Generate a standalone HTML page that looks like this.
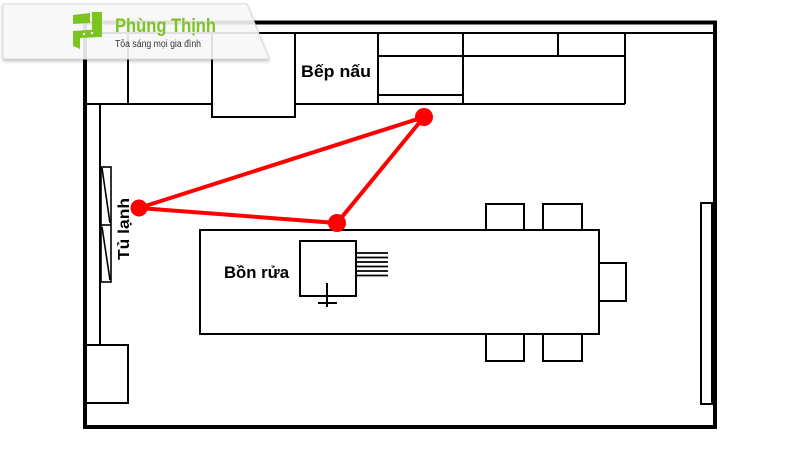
<!DOCTYPE html>
<html><head><meta charset="utf-8"><style>
html,body{margin:0;padding:0;background:#fff;}
svg{display:block;}
text{font-family:"Liberation Sans","DejaVu Sans",sans-serif;}
</style></head><body>
<svg width="800" height="450" viewBox="0 0 800 450" xmlns="http://www.w3.org/2000/svg">
<defs>
<filter id="sh" x="-10%" y="-20%" width="120%" height="160%">
<feDropShadow dx="0" dy="2" stdDeviation="1.5" flood-color="#000" flood-opacity="0.25"/>
</filter>
</defs>
<rect width="800" height="450" fill="#fff"/>
<g fill="none" stroke="#000" stroke-width="2">
<rect x="85" y="22.5" width="630" height="404.5" stroke-width="4"/>
<line x1="85" y1="33" x2="715" y2="33"/>
<line x1="85" y1="104" x2="212" y2="104"/>
<line x1="295" y1="104" x2="625" y2="104"/>
<line x1="128" y1="33" x2="128" y2="104"/>
<rect x="212" y="33" width="83" height="84"/>
<line x1="378" y1="33" x2="378" y2="104"/>
<line x1="463" y1="33" x2="463" y2="104"/>
<line x1="625" y1="33" x2="625" y2="104"/>
<line x1="378" y1="56" x2="625" y2="56"/>
<line x1="558" y1="33" x2="558" y2="56"/>
<line x1="378" y1="95" x2="463" y2="95"/>
<line x1="100" y1="104" x2="100" y2="345"/>
<rect x="85" y="345" width="43" height="58"/>
<rect x="101" y="167" width="10" height="115" stroke-width="1.6"/>
<line x1="101" y1="225" x2="111" y2="225" stroke-width="1.6"/>
<line x1="102" y1="168" x2="110" y2="223" stroke-width="1.6"/>
<line x1="102" y1="227" x2="110" y2="280" stroke-width="1.6"/>
<rect x="200" y="230" width="399" height="104"/>
<rect x="300" y="241" width="56" height="55"/>
<g stroke-width="1.8">
<line x1="356" y1="253" x2="388" y2="253"/>
<line x1="356" y1="257.5" x2="388" y2="257.5"/>
<line x1="356" y1="262" x2="388" y2="262"/>
<line x1="356" y1="266.5" x2="388" y2="266.5"/>
<line x1="356" y1="271" x2="388" y2="271"/>
<line x1="356" y1="275.5" x2="388" y2="275.5"/>
</g>
<line x1="327" y1="283" x2="327" y2="307"/>
<line x1="318" y1="303" x2="337" y2="303"/>
<rect x="486" y="204" width="38" height="26"/>
<rect x="543" y="204" width="39" height="26"/>
<rect x="486" y="334" width="38" height="27"/>
<rect x="543" y="334" width="39" height="27"/>
<rect x="599" y="263" width="27" height="38"/>
<rect x="701" y="203" width="11" height="201"/>
</g>
<text x="301" y="77" font-size="16.5" font-weight="bold" fill="#000" textLength="70" lengthAdjust="spacingAndGlyphs">Bếp nấu</text>
<text x="224" y="278" font-size="16.5" font-weight="bold" fill="#000" textLength="65" lengthAdjust="spacingAndGlyphs">Bồn rửa</text>
<text x="0" y="0" font-size="16" font-weight="bold" fill="#000" textLength="62" lengthAdjust="spacingAndGlyphs" transform="translate(129,260) rotate(-90)">Tủ lạnh</text>
<g stroke="#f00" stroke-width="4" stroke-linecap="round" fill="none">
<polyline points="139,208 424,117 337,223 139,208"/>
</g>
<g fill="#f00">
<circle cx="139" cy="208" r="8.5"/>
<circle cx="424" cy="117" r="9"/>
<circle cx="337" cy="223" r="9"/>
</g>
<polygon points="3,4 247,4 269,59 3,59" fill="#fafafa" fill-opacity="0.88" stroke="#d8d8d8" stroke-width="1" filter="url(#sh)"/>
<g fill="#7cc520">
<polygon points="73,15 90,13 90,23 73,24"/>
<polygon points="92,12 102,12 102,37 92,36"/>
<polygon points="73,31 102,29 102,37 80,38 80,49 73,46"/>
</g>
<g fill="#fff">
<circle cx="84" cy="34" r="1.2"/>
<circle cx="92" cy="33" r="1.2"/>
</g>
<text x="115" y="32" font-size="19" font-weight="bold" fill="#7cc520" textLength="101" lengthAdjust="spacingAndGlyphs">Phùng Thịnh</text>
<text x="115" y="47" font-size="10" fill="#333" textLength="86" lengthAdjust="spacingAndGlyphs">Tỏa sáng mọi gia đình</text>
</svg>
</body></html>
